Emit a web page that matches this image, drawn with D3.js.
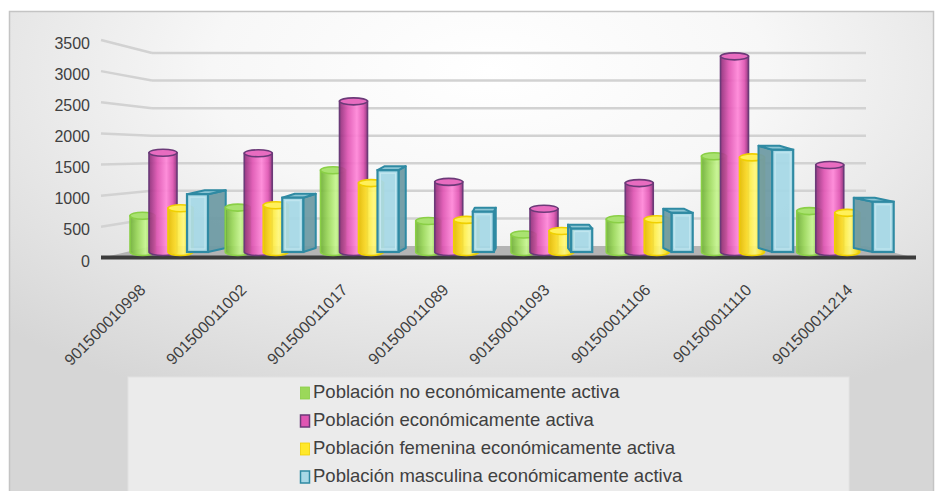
<!DOCTYPE html>
<html>
<head>
<meta charset="utf-8">
<script src="https://cdn.jsdelivr.net/npm/d3@7"></script>
<style>
  body { margin: 0; background: #fff; }
  text { font-family: "Liberation Sans", Arial, sans-serif; fill: #404040; }
</style>
</head>
<body>
<svg id="chart" width="935" height="491"></svg>
<script>
// data
var categories = ["901500010998", "901500011002", "901500011017", "901500011089",
                  "901500011093", "901500011106", "901500011110", "901500011214"];
var seriesNames = ["Población no económicamente activa", "Población económicamente activa",
                   "Población femenina económicamente activa", "Población masculina económicamente activa"];
var noActiva  = [620, 760, 1400, 530, 300, 560, 1640, 700];
var activa    = [1700, 1690, 2580, 1200, 740, 1180, 3350, 1490];
var femenina  = [750, 800, 1180, 550, 360, 560, 1620, 670];
var masculina = [990, 930, 1400, 690, 400, 670, 1750, 860];
var yTicks = [0, 500, 1000, 1500, 2000, 2500, 3000, 3500];

var seriesValues = [noActiva, activa, femenina, masculina];

var styles = [
  {dark: "#6fae37", base: "#9bd85a", light: "#c6f58f", stroke: "#8acf46", top: "#a9e270", w: 25},
  {dark: "#8e2c78", base: "#e055b3", light: "#ff86d8", stroke: "#6b3a78", top: "#e86cc0", w: 28},
  {dark: "#e2c200", base: "#ffe82a", light: "#fff87a", stroke: "#f0d000", top: "#fff05a", w: 25},
  {front: "#a7d8e6", side: "#6f9ba4", top: "#8cc5d4", stroke: "#2f8aa3", w: 21}
];

var svg = d3.select("#chart");
var defs = svg.append("defs");

// background
var bg = defs.append("radialGradient").attr("id", "bg")
  .attr("cx", "52%").attr("cy", "12%").attr("r", "75%");
bg.append("stop").attr("offset", "0%").attr("stop-color", "#ffffff");
bg.append("stop").attr("offset", "40%").attr("stop-color", "#f7f7f7");
bg.append("stop").attr("offset", "100%").attr("stop-color", "#d6d6d6");

svg.append("rect")
  .attr("x", 9.5).attr("y", 11.5).attr("width", 924).attr("height", 485)
  .attr("fill", "url(#bg)").attr("stroke", "#c4c4c4").attr("stroke-width", 1.5);

styles.forEach(function(s, i) {
  if (i === 3) return;
  var g = defs.append("linearGradient").attr("id", "cyl" + i);
  g.append("stop").attr("offset", "0%").attr("stop-color", s.dark);
  g.append("stop").attr("offset", "30%").attr("stop-color", s.base);
  g.append("stop").attr("offset", "62%").attr("stop-color", s.light);
  g.append("stop").attr("offset", "85%").attr("stop-color", s.base);
  g.append("stop").attr("offset", "100%").attr("stop-color", s.dark);
});

// scales
var x = d3.scaleBand().domain(categories).range([130, 892]);
var xSeries = d3.scaleBand().domain(seriesNames).range([0, 76]);
var xLabel = d3.scaleBand().domain(categories).range([96, 904]);
var yBar = d3.scaleLinear().domain([0, 3500]).range([252, 47.6]);
var yBack = d3.scaleLinear().domain([0, 3500]).range([246, 53]);
var yFront = d3.scaleLinear().domain([0, 3500]).range([258, 40]);

var wallLeft = 101, backLeft = 152, backRight = 866, floorRight = 916;

// grid on the back and side walls
var grid = svg.append("g");
grid.selectAll("line.back").data(yTicks.slice(1)).enter().append("line")
  .attr("x1", backLeft).attr("x2", backRight)
  .attr("y1", function(d) { return yBack(d); }).attr("y2", function(d) { return yBack(d); })
  .attr("stroke", "#d2d2d2").attr("stroke-width", 2.5);
grid.selectAll("line.side").data(yTicks.slice(1)).enter().append("line")
  .attr("x1", wallLeft).attr("x2", backLeft)
  .attr("y1", function(d) { return yFront(d); }).attr("y2", function(d) { return yBack(d); })
  .attr("stroke", "#d2d2d2").attr("stroke-width", 2.5);

// floor
svg.append("path")
  .attr("d", "M" + wallLeft + "," + yFront(0) + "L" + backLeft + "," + yBack(0) +
             "L" + backRight + "," + yBack(0) + "L" + floorRight + "," + yFront(0) + "Z")
  .attr("fill", "#b4b4b4");
svg.append("rect")
  .attr("x", wallLeft).attr("y", yFront(0) - 2.5)
  .attr("width", floorRight - wallLeft).attr("height", 4)
  .attr("fill", "#3c3c3c");

// y axis labels
svg.append("g").selectAll("text").data(yTicks).enter().append("text")
  .attr("x", 90).attr("y", function(d) { return yFront(d) + 3; })
  .attr("text-anchor", "end").attr("dominant-baseline", "central")
  .attr("font-size", 16)
  .text(function(d) { return d; });

// bars
var vpx = 520, persp = 0.055, depthY = 4, ry = 3.5;
var bars = svg.append("g");

categories.forEach(function(cat, ci) {
  seriesNames.forEach(function(name, si) {
    var v = seriesValues[si][ci];
    var s = styles[si];
    var x0 = x(cat) + xSeries(name);
    var yt = yBar(v), yb = yBar(0);
    var g = bars.append("g");

    if (si < 3) {
      var w = s.w, cx = x0 + w / 2, r = w / 2;
      g.append("path")
        .attr("d", "M" + (cx - r) + "," + yt + "L" + (cx - r) + "," + yb +
                   "A" + r + "," + ry + " 0 0 0 " + (cx + r) + "," + yb +
                   "L" + (cx + r) + "," + yt + "Z")
        .attr("fill", "url(#cyl" + si + ")").attr("fill-opacity", 0.92)
        .attr("stroke", s.stroke).attr("stroke-width", 1.6);
      g.append("ellipse")
        .attr("cx", cx).attr("cy", yt).attr("rx", r).attr("ry", ry)
        .attr("fill", s.top).attr("stroke", s.stroke).attr("stroke-width", 1.6);
    } else {
      var wf = s.w;
      var dx = (vpx - (x0 + wf / 2)) * persp;
      var xf = x0 + Math.max(0, -dx);
      var sideX = dx > 0 ? xf + wf : xf;
      // side face
      g.append("path")
        .attr("d", "M" + sideX + "," + yt + "L" + (sideX + dx) + "," + (yt - depthY) +
                   "L" + (sideX + dx) + "," + (yb - depthY) + "L" + sideX + "," + yb + "Z")
        .attr("fill", s.side).attr("fill-opacity", 0.95)
        .attr("stroke", s.stroke).attr("stroke-width", 2).attr("stroke-linejoin", "round");
      // top face
      g.append("path")
        .attr("d", "M" + xf + "," + yt + "L" + (xf + wf) + "," + yt +
                   "L" + (xf + wf + dx) + "," + (yt - depthY) + "L" + (xf + dx) + "," + (yt - depthY) + "Z")
        .attr("fill", s.top)
        .attr("stroke", s.stroke).attr("stroke-width", 2).attr("stroke-linejoin", "round");
      // front face
      g.append("rect")
        .attr("x", xf).attr("y", yt).attr("width", wf).attr("height", yb - yt)
        .attr("fill", s.front).attr("fill-opacity", 0.95)
        .attr("stroke", s.stroke).attr("stroke-width", 2.2);
      g.append("rect")
        .attr("x", xf + 3).attr("y", yt + 3).attr("width", wf - 6).attr("height", Math.max(0, yb - yt - 6))
        .attr("fill", "none").attr("stroke", "#c4e8f1").attr("stroke-width", 1);
    }
  });
});

// category labels
svg.append("g").selectAll("text").data(categories).enter().append("text")
  .attr("transform", function(d) {
    return "translate(" + (xLabel(d) + xLabel.bandwidth() / 2) + ",291) rotate(-45)";
  })
  .attr("text-anchor", "end").attr("font-size", 16)
  .text(function(d) { return d; });

// legend
svg.append("rect")
  .attr("x", 128).attr("y", 377).attr("width", 721).attr("height", 120)
  .attr("fill", "#ebebeb").attr("stroke", "#e2e2e2");

var legend = svg.append("g").selectAll("g").data(seriesNames).enter().append("g")
  .attr("transform", function(d, i) { return "translate(300," + (398 + i * 28) + ")"; });

legend.append("rect")
  .attr("x", 0.5).attr("y", -11).attr("width", 9).attr("height", 12)
  .attr("fill", function(d, i) { return i === 3 ? styles[3].front : styles[i].base; })
  .attr("stroke", function(d, i) { return styles[i].stroke; })
  .attr("stroke-width", function(d, i) { return i === 1 || i === 3 ? 1.5 : 0.8; });

legend.append("text")
  .attr("x", 13).attr("y", 0)
  .attr("font-size", 18.5)
  .text(function(d) { return d; });
</script>
</body>
</html>
